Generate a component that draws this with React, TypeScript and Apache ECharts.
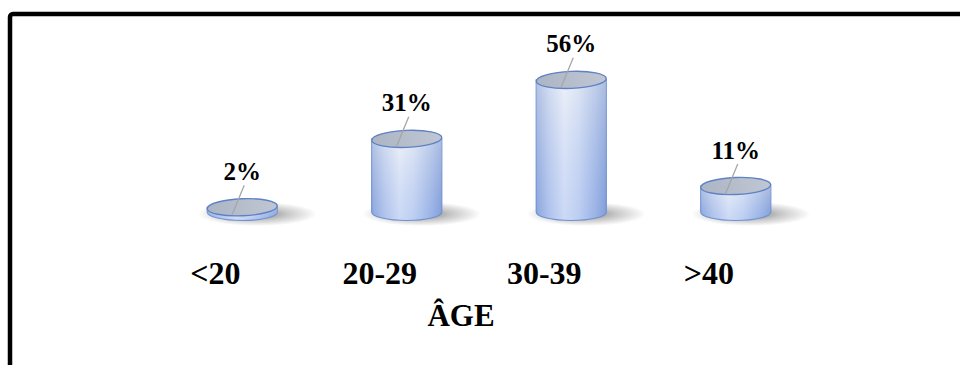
import React, { useEffect, useRef } from "react";
import * as echarts from "echarts";

// Age distribution (percent of respondents)
const ageGroups = ["<20", "20-29", "30-39", ">40"];
const sharePercent = [2, 31, 56, 11];
const axisTitle = "ÂGE";

const SERIF = '"Liberation Serif", "Times New Roman", "DejaVu Serif", serif';

export default function App() {
  const ref = useRef<HTMLDivElement>(null);

  useEffect(() => {
    const chart = echarts.init(ref.current!, null, { renderer: "svg" });

    const bodyFill = new echarts.graphic.LinearGradient(0, 0, 1, 0, [
      { offset: 0, color: "#98aedb" },
      { offset: 0.18, color: "#c6d3ef" },
      { offset: 0.4, color: "#eef2fb" },
      { offset: 0.6, color: "#d9e3f6" },
      { offset: 0.85, color: "#abbee6" },
      { offset: 1, color: "#8aa3d6" },
    ]);
    const bodyTint = new echarts.graphic.LinearGradient(0, 0, 0, 1, [
      { offset: 0, color: "rgba(232,235,242,0.35)" },
      { offset: 1, color: "rgba(100,142,228,0.25)" },
    ]);
    const capFill = new echarts.graphic.LinearGradient(0, 0, 1, 0, [
      { offset: 0, color: "#acb5c5" },
      { offset: 1, color: "#c0c6d3" },
    ]);
    const floorShadow = new echarts.graphic.RadialGradient(0.5, 0.5, 0.5, [
      { offset: 0, color: "rgba(0,0,0,0.5)" },
      { offset: 0.5, color: "rgba(0,0,0,0.22)" },
      { offset: 1, color: "rgba(0,0,0,0)" },
    ]);

    const renderCylinder = (params: any, api: any) => {
      const idx = api.value(0);
      const v = api.value(1);
      const top = api.coord([idx, v]);
      const base = api.coord([idx, 0]);
      const band = api.size([1, 0])[0];
      const rx = band * 0.213;
      const ry = 8.5;
      const cx = top[0];
      const yTop = top[1];
      const yBot = base[1];
      const body =
        `M${cx - rx},${yTop} L${cx - rx},${yBot} ` +
        `A${rx},${ry} 0 0 0 ${cx + rx},${yBot} L${cx + rx},${yTop} Z`;

      return {
        type: "group",
        children: [
          {
            type: "ellipse",
            shape: { cx: cx + 15, cy: yBot + 2, rx: rx * 1.7, ry: 12 },
            style: { fill: floorShadow },
          },
          {
            type: "path",
            shape: { pathData: body },
            style: { fill: bodyFill, stroke: "#6f91cf", lineWidth: 1.2 },
          },
          {
            type: "path",
            shape: { pathData: body },
            style: { fill: bodyTint, stroke: "none" },
          },
          {
            type: "ellipse",
            x: cx,
            y: yTop,
            rotation: 0.04,
            shape: { cx: 0, cy: 0, rx: rx, ry: ry },
            style: { fill: capFill, stroke: "#5f82c4", lineWidth: 1.4 },
          },
          {
            type: "line",
            shape: { x1: cx + 2, y1: yTop - 22, x2: cx - 10, y2: yTop + 7 },
            style: { stroke: "#a6a6a6", lineWidth: 1.3 },
          },
          {
            type: "text",
            x: cx,
            y: yTop - 36,
            style: {
              text: `${v}%`,
              fontFamily: SERIF,
              fontWeight: "bold",
              fontSize: 25,
              fill: "#000",
              align: "center",
              verticalAlign: "middle",
            },
          },
        ],
      };
    };

    chart.setOption({
      animation: false,
      backgroundColor: "#ffffff",
      grid: { left: 160, right: 142, top: 70.4, bottom: 153 },
      xAxis: {
        type: "category",
        data: ageGroups,
        axisLine: { show: false },
        axisTick: { show: false },
        splitLine: { show: false },
        axisLabel: {
          margin: 45,
          fontFamily: SERIF,
          fontWeight: "bold",
          fontSize: 32,
          color: "#000",
          padding: [0, 54, 0, 0],
        },
        name: axisTitle,
        nameLocation: "middle",
        nameGap: 88,
        nameTextStyle: {
          fontFamily: SERIF,
          fontWeight: "bold",
          fontSize: 31,
          color: "#000",
          padding: [0, 56, 0, 0],
        },
      },
      yAxis: { type: "value", min: 0, max: 60, show: false },
      series: [
        {
          type: "custom",
          renderItem: renderCylinder,
          data: sharePercent.map((v, i) => [i, v]),
          clip: false,
        },
      ],
      graphic: [
        {
          type: "rect",
          silent: true,
          shape: { x: 10, y: 14, width: 1000, height: 400, r: 3 },
          style: { fill: "none", stroke: "#000", lineWidth: 4.5 },
        },
      ],
    });

    return () => chart.dispose();
  }, []);

  return (
    <div
      ref={ref}
      style={{ position: "fixed", left: 0, top: 0, width: 960, height: 365, background: "#fff" }}
    />
  );
}
